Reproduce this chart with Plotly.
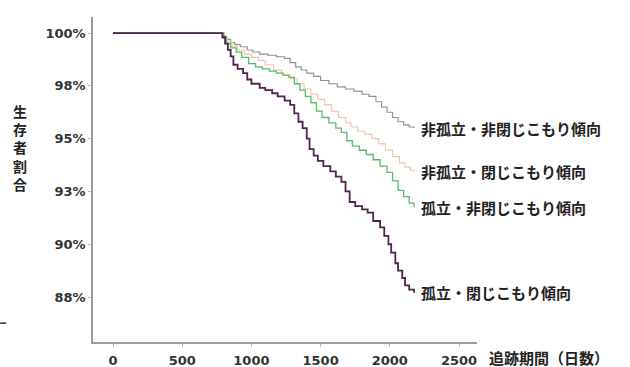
import plotly.graph_objects as go

# ---- data ----
series_names = ["非孤立・非閉じこもり傾向", "非孤立・閉じこもり傾向", "孤立・非閉じこもり傾向", "孤立・閉じこもり傾向"]

gray_days = [0, 800, 820, 850, 880, 920, 970, 1010, 1060, 1120, 1180, 1240, 1280, 1320, 1360, 1400, 1450, 1500,
             1560, 1620, 1680, 1740, 1800, 1850, 1900, 1940, 1980, 2020, 2060, 2100, 2140, 2175]
gray_vals = [100, 99.85, 99.7, 99.55, 99.45, 99.35, 99.2, 99.1, 99.0, 98.95, 98.88, 98.8, 98.6, 98.4, 98.25, 98.1,
             97.95, 97.75, 97.6, 97.45, 97.35, 97.25, 97.1, 97.0, 96.75, 96.5, 96.25, 96.0, 95.8, 95.65, 95.55, 95.5]

pink_days = [0, 800, 830, 860, 900, 950, 1000, 1050, 1100, 1160, 1220, 1280, 1330, 1380, 1430, 1480, 1530, 1580,
             1630, 1680, 1720, 1770, 1820, 1870, 1920, 1970, 2020, 2070, 2110, 2150, 2175]
pink_vals = [100, 99.8, 99.55, 99.35, 99.2, 99.0, 98.85, 98.7, 98.5, 98.25, 98.05, 97.85, 97.6, 97.35, 97.1, 96.85,
             96.6, 96.3, 96.0, 95.75, 95.55, 95.35, 95.2, 95.0, 94.75, 94.45, 94.15, 93.85, 93.65, 93.5, 93.45]

green_days = [0, 800, 820, 850, 890, 930, 980, 1030, 1080, 1130, 1180, 1230, 1270, 1310, 1350, 1390, 1430, 1470,
              1510, 1560, 1610, 1650, 1690, 1730, 1780, 1830, 1880, 1930, 1980, 2020, 2060, 2100, 2140, 2175]
green_vals = [100, 99.75, 99.5, 99.3, 99.1, 98.85, 98.55, 98.4, 98.3, 98.2, 98.1, 98.0, 97.9, 97.6, 97.3, 97.0,
              96.7, 96.3, 96.0, 95.75, 95.5, 95.3, 94.9, 94.65, 94.45, 94.25, 94.0, 93.7, 93.4, 93.0, 92.55, 92.25,
              91.95, 91.75]

purple_days = [0, 790, 810, 830, 850, 870, 900, 940, 970, 1000, 1060, 1100, 1150, 1190, 1240, 1280, 1310, 1340,
               1370, 1400, 1420, 1450, 1480, 1520, 1570, 1610, 1650, 1680, 1710, 1750, 1800, 1840, 1880, 1930,
               1960, 1990, 2010, 2040, 2060, 2090, 2110, 2140, 2175]
purple_vals = [100, 99.8, 99.5, 99.2, 98.9, 98.5, 98.3, 98.1, 97.8, 97.6, 97.4, 97.3, 97.15, 97.0, 96.8, 96.6,
               96.2, 95.8, 95.5, 95.0, 94.5, 94.2, 93.95, 93.7, 93.45, 93.2, 92.95, 92.5, 92.0, 91.8, 91.65, 91.5,
               91.1, 90.8, 90.4, 90.0, 89.6, 89.1, 88.75, 88.4, 88.05, 87.85, 87.7]

y_tickvals = [100, 97.5, 95, 92.5, 90, 87.5]
y_ticktext = ["100%", "98%", "95%", "93%", "90%", "88%"]
x_tickvals = [0, 500, 1000, 1500, 2000, 2500]

y_title = "生存者割合"
x_title = "追跡期間（日数）"

colors = ["#8f8f8f", "#f3bfae", "#55bd68", "#4e2450"]
widths = [1.1, 1.1, 1.3, 1.8]

fig = go.Figure()
data = [(gray_days, gray_vals), (pink_days, pink_vals), (green_days, green_vals), (purple_days, purple_vals)]
for (d, v), name, c, w in zip(data, series_names, colors, widths):
    fig.add_trace(go.Scatter(x=d, y=v, mode="lines", line=dict(color=c, width=w, shape="hv"),
                             name=name, showlegend=False, hoverinfo="skip"))
    fig.add_annotation(x=d[-1], y=v[-1], xref="x", yref="y", text="<b>" + name + "</b>", showarrow=False,
                       xanchor="left", yanchor="middle", xshift=5,
                       font=dict(family="Noto Sans CJK JP", size=15, color="#222"))

axis_font = dict(family="DejaVu Sans", size=13, color="#333", weight="bold")
fig.update_layout(
    width=630, height=367,
    margin=dict(l=93, r=153, t=17, b=25),
    paper_bgcolor="white", plot_bgcolor="white",
    font=dict(family="DejaVu Sans"),
    xaxis=dict(range=[-144.5, 2630], tickvals=x_tickvals, showgrid=False, zeroline=False,
               showline=True, linecolor="#9a9a9a", linewidth=1.5, ticks="outside", ticklen=3,
               tickcolor="#bbb", tickfont=axis_font, ticklabelstandoff=3, automargin=False),
    yaxis=dict(range=[85.37, 100.76], tickvals=y_tickvals, ticktext=y_ticktext, showgrid=False,
               zeroline=False, showline=True, linecolor="#9a9a9a", linewidth=1.5, ticks="outside",
               ticklen=3, tickcolor="#bbb", tickfont=axis_font, automargin=False),
)

fig.add_annotation(x=-0.190, y=0.597, xref="paper", yref="paper",
                   text="<b>" + "<br>".join(list(y_title)) + "</b>",
                   showarrow=False, xanchor="center", yanchor="middle",
                   font=dict(family="Noto Sans CJK JP", size=14, color="#222"))

fig.add_annotation(x=1.0, y=-0.047, xref="paper", yref="paper", text="<b>" + x_title + "</b>", showarrow=False,
                   xanchor="left", yanchor="middle", xshift=10,
                   font=dict(family="Noto Sans CJK JP", size=15, color="#222"))

# stray dash at left edge
fig.add_shape(type="line", xref="paper", yref="paper", x0=-0.242, x1=-0.226, y0=0.058, y1=0.058,
              line=dict(color="#333", width=1.5))

fig.write_html("out.html", config={"displayModeBar": False},
               post_script="document.body.style.margin='0';document.body.style.overflow='hidden';")
